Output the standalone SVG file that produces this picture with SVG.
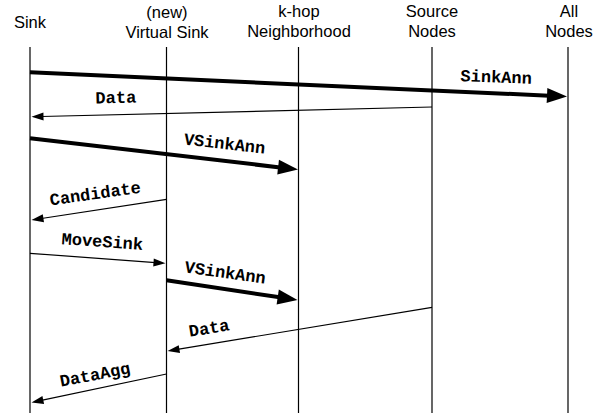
<svg xmlns="http://www.w3.org/2000/svg" width="601" height="417" viewBox="0 0 601 417">
<style>
.hdr{font-family:"Liberation Sans",Arial,sans-serif;font-size:16.5px;fill:#000;text-anchor:middle}
.life{stroke:#000;stroke-width:1.2;fill:none}
.thin{stroke:#000;stroke-width:1.2;fill:none;marker-end:url(#ah)}
.thick{stroke:#000;stroke-width:4;fill:none;marker-end:url(#ahb)}
.lbl{font-family:"Liberation Mono","Courier New",monospace;font-weight:bold;font-size:17px;fill:#000;text-anchor:middle}
</style>
<defs>
<marker id="ah" markerUnits="userSpaceOnUse" markerWidth="12" markerHeight="8" refX="2" refY="4" orient="auto" overflow="visible"><path d="M0,0 L12,4 L0,8 z" fill="#000"/></marker>
<marker id="ahb" markerUnits="userSpaceOnUse" markerWidth="20" markerHeight="15" refX="2" refY="7.5" orient="auto" overflow="visible"><path d="M0,0 L20,7.5 L0,15 z" fill="#000"/></marker>
</defs>
<rect width="601" height="417" fill="#fff"/>
<g id="sink"><text class="hdr" x="30" y="28.3">Sink</text><line class="life" x1="30" y1="47" x2="30" y2="413"/></g>
<g id="virtual-sink"><text class="hdr" x="167" y="17.5">(new)</text><text class="hdr" x="167" y="37.5">Virtual Sink</text><line class="life" x1="166.5" y1="47" x2="166.5" y2="413"/></g>
<g id="khop"><text class="hdr" x="299" y="17">k-hop</text><text class="hdr" x="299" y="37">Neighborhood</text><line class="life" x1="298.5" y1="47" x2="298.5" y2="413"/></g>
<g id="source"><text class="hdr" x="432" y="17">Source</text><text class="hdr" x="432" y="37">Nodes</text><line class="life" x1="432" y1="47" x2="432" y2="413"/></g>
<g id="all"><text class="hdr" x="569" y="17">All</text><text class="hdr" x="569" y="37">Nodes</text><line class="life" x1="568" y1="47" x2="568" y2="413"/></g>
<g id="connectors">
<line class="thick" x1="30" y1="72.3" x2="549" y2="95.7"/>
<text class="lbl" transform="translate(496,82.5) rotate(2)">SinkAnn</text>
<line class="thin" x1="432" y1="107" x2="41.5" y2="116.5"/>
<text class="lbl" transform="translate(116,103) rotate(-1.4)">Data</text>
<line class="thick" x1="30" y1="138.3" x2="280.1" y2="167.4"/>
<text class="lbl" transform="translate(224,149) rotate(6.5)">VSinkAnn</text>
<line class="thin" x1="166.5" y1="199.3" x2="41.4" y2="218.5"/>
<text class="lbl" transform="translate(96,199) rotate(-8)">Candidate</text>
<line class="thin" x1="30" y1="253.3" x2="155.5" y2="262.6"/>
<text class="lbl" transform="translate(102,247) rotate(4)">MoveSink</text>
<line class="thick" x1="166.5" y1="280.3" x2="279.7" y2="297.3"/>
<text class="lbl" transform="translate(224.5,278) rotate(8)">VSinkAnn</text>
<line class="thin" x1="432" y1="307.3" x2="177.4" y2="349.4"/>
<text class="lbl" transform="translate(210,333.5) rotate(-9.4)">Data</text>
<line class="thin" x1="166.5" y1="374" x2="41.3" y2="400.4"/>
<text class="lbl" transform="translate(96,380) rotate(-11)">DataAgg</text>
</g>
</svg>
